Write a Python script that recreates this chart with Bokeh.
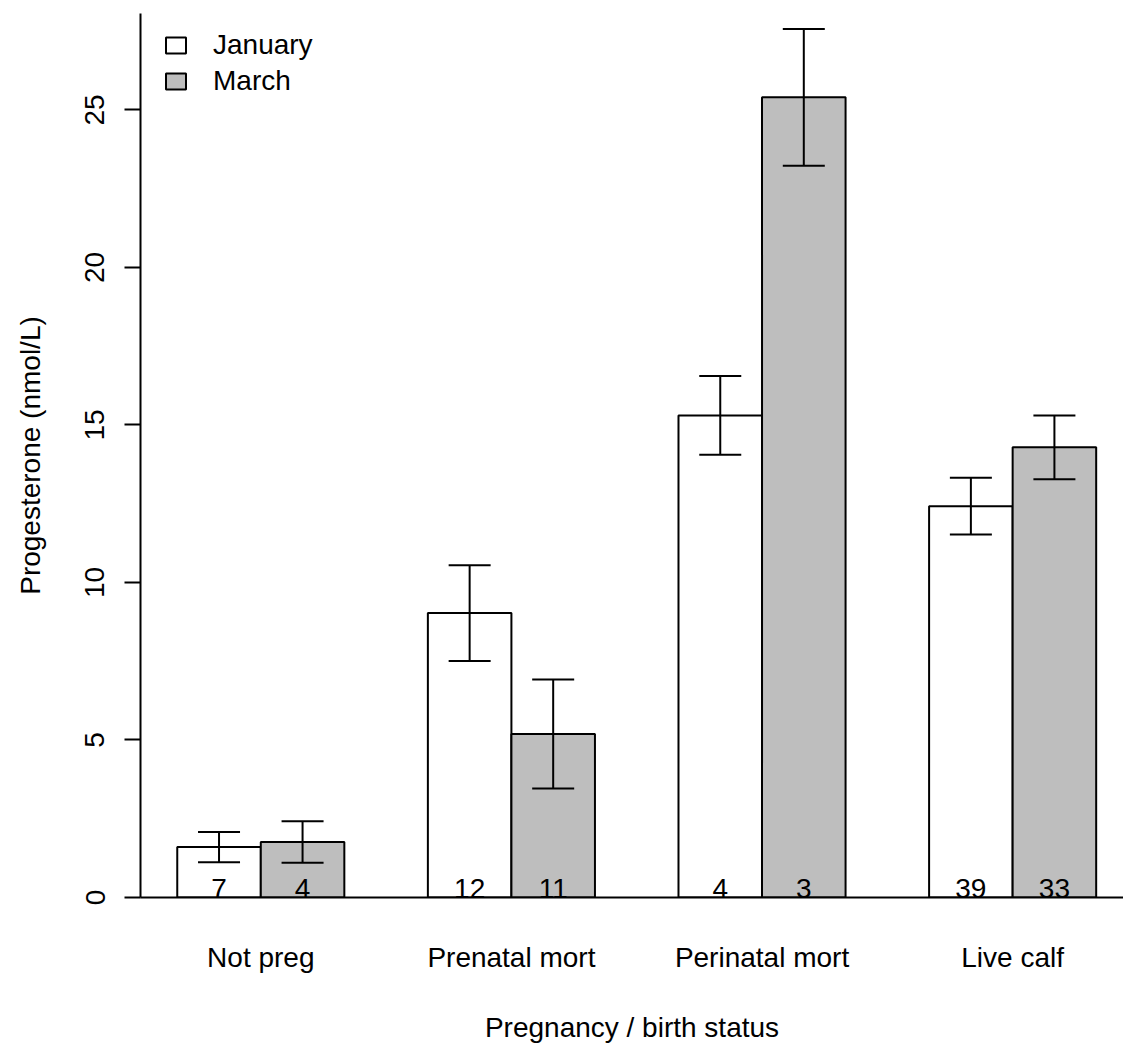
from bokeh.plotting import figure
from bokeh.models import (ColumnDataSource, Range1d, FixedTicker, Whisker, TeeHead,
                          Legend, LegendItem)
from bokeh.core.properties import value
from bokeh.embed import file_html
from bokeh.resources import INLINE

# ---- data ----
categories = ["Not preg", "Prenatal mort", "Perinatal mort", "Live calf"]
months = ["January", "March"]
jan_mean = [1.60, 9.03, 15.30, 12.42]
mar_mean = [1.76, 5.19, 25.40, 14.29]
jan_se = [0.48, 1.52, 1.25, 0.90]
mar_se = [0.66, 1.73, 2.17, 1.01]
jan_n = [7, 12, 4, 39]
mar_n = [4, 11, 3, 33]
y_ticks = [0, 5, 10, 15, 20, 25]

FONT = "Liberation Sans"
FS = "28px"

# barplot(beside=TRUE) positions: bars of width 1, groups separated by 1
group_centers = [2 + 3 * i for i in range(len(categories))]
jan_x = [c - 0.5 for c in group_centers]
mar_x = [c + 0.5 for c in group_centers]

jan_src = ColumnDataSource(dict(
    x=jan_x, top=jan_mean, upper=[m + s for m, s in zip(jan_mean, jan_se)],
    lower=[m - s for m, s in zip(jan_mean, jan_se)], n=[str(v) for v in jan_n]))
mar_src = ColumnDataSource(dict(
    x=mar_x, top=mar_mean, upper=[m + s for m, s in zip(mar_mean, mar_se)],
    lower=[m - s for m, s in zip(mar_mean, mar_se)], n=[str(v) for v in mar_n]))

p = figure(width=1123, height=1045, output_backend="svg", toolbar_location=None,
           x_range=Range1d(0.56, 12.327), y_range=Range1d(0, 28.06),
           min_border_left=140, min_border_right=0, min_border_top=13,
           min_border_bottom=142)
p.outline_line_color = None
p.xgrid.grid_line_color = None
p.ygrid.grid_line_color = None
p.background_fill_color = "white"
p.border_fill_color = "white"

r_jan = p.vbar(x="x", top="top", bottom=0, width=1, source=jan_src,
               fill_color="white", line_color="black", line_width=2)
r_mar = p.vbar(x="x", top="top", bottom=0, width=1, source=mar_src,
               fill_color="#BEBEBE", line_color="black", line_width=2)

for src in (jan_src, mar_src):
    w = Whisker(base="x", upper="upper", lower="lower", source=src,
                line_color="black", line_width=2, level="overlay",
                upper_head=TeeHead(size=42, line_color="black", line_width=2),
                lower_head=TeeHead(size=42, line_color="black", line_width=2))
    p.add_layout(w)
    p.text(x="x", y=0.27, text="n", source=src, text_font=value(FONT),
           text_font_size=FS, text_align="center", text_baseline="middle",
           text_color="black")

# y axis
ya = p.yaxis[0]
ya.ticker = FixedTicker(ticks=y_ticks)
ya.major_label_orientation = "vertical"
ya.major_tick_out = 16
ya.major_tick_in = 0
ya.minor_tick_out = 0
ya.minor_tick_in = 0
ya.axis_line_width = 2
ya.major_tick_line_width = 2
ya.major_label_text_font = FONT
ya.major_label_text_font_size = FS
ya.major_label_text_color = "black"
ya.major_label_standoff = 20
ya.axis_label = "Progesterone (nmol/L)"
ya.axis_label_text_font = FONT
ya.axis_label_text_font_size = FS
ya.axis_label_text_font_style = "normal"
ya.axis_label_text_color = "black"
ya.axis_label_standoff = 37

# x axis
xa = p.xaxis[0]
xa.ticker = FixedTicker(ticks=group_centers)
xa.major_label_overrides = {c: name for c, name in zip(group_centers, categories)}
xa.major_tick_out = 0
xa.major_tick_in = 0
xa.minor_tick_out = 0
xa.minor_tick_in = 0
xa.axis_line_width = 2
xa.major_label_text_font = FONT
xa.major_label_text_font_size = FS
xa.major_label_text_color = "black"
xa.major_label_standoff = 44
xa.axis_label = "Pregnancy / birth status"
xa.axis_label_text_font = FONT
xa.axis_label_text_font_size = FS
xa.axis_label_text_font_style = "normal"
xa.axis_label_text_color = "black"
xa.axis_label_standoff = 36

legend = Legend(items=[LegendItem(label=months[0], renderers=[r_jan]),
                       LegendItem(label=months[1], renderers=[r_mar])],
                location=(23, 800), margin=0, padding=0,
                glyph_width=25, glyph_height=20, label_standoff=25,
                label_height=32, spacing=4,
                label_text_font=FONT, label_text_font_size=FS,
                label_text_color="black", border_line_color=None,
                background_fill_alpha=0)
p.add_layout(legend)

open("out.html", "w").write(file_html(p, INLINE))
